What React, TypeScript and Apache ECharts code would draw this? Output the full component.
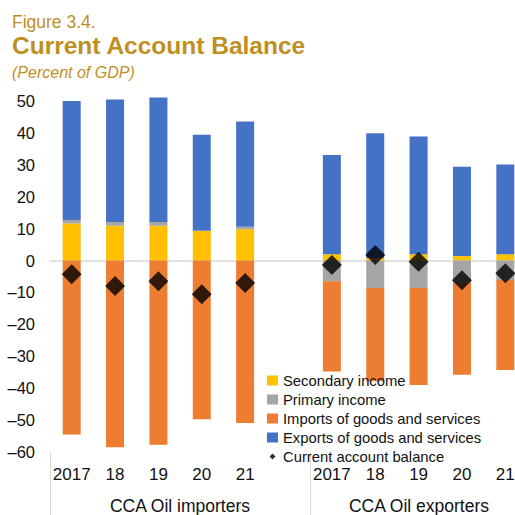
import React, { useEffect, useRef } from 'react';
import * as echarts from 'echarts';

const categories = ['2017', '18', '19', '20', '21', '', '2017', '18', '19', '20', '21'];
const groupLabels = ['CCA Oil importers', 'CCA Oil exporters'];
const secondaryIncome = [11.6, 10.9, 10.9, 9.3, 9.8, '-', 2.0, 0.8, 2.0, 1.4, 2.0];
const primaryIncome = [1.1, 1.2, 1.2, 0, 0.8, '-', -6.5, -8.6, -8.6, -7.0, -6.1];
const importsGS = [-54.5, -58.5, -57.7, -49.7, -50.9, '-', -28.3, -29.2, -30.4, -28.8, -28.2];
const exportsGS = [37.3, 38.4, 39.0, 30.1, 33.0, '-', 31.1, 39.1, 36.9, 28.0, 28.1];
const currentAccount = [-4.3, -8.0, -6.5, -10.6, -7.0, '-', -1.4, 1.7, -0.4, -6.2, -4.0];
const yMin = -60;
const yMax = 50;
const yStep = 10;

const FONT = '"Liberation Sans", Arial, sans-serif';
const GOLD = '#BF8F1F';

export default function App() {
  const ref = useRef<HTMLDivElement>(null);
  useEffect(() => {
    if (!ref.current) return;
    const chart = echarts.init(ref.current, undefined, { renderer: 'svg' });
    const barCommon = { type: 'bar', stack: 'total', barWidth: 18, xAxisIndex: 0, clip: false };
    chart.setOption({
      animation: false,
      textStyle: { fontFamily: FONT },
      grid: { left: 50, right: 1, top: 101, bottom: 63, containLabel: false },
      xAxis: [
        {
          type: 'category',
          data: categories,
          boundaryGap: true,
          axisLine: { show: false, onZero: false },
          axisTick: {
            show: true,
            alignWithLabel: false,
            length: 63,
            interval: (index: number) => index === 0 || index === 6,
            lineStyle: { color: '#d9d9d9', width: 1 },
          },
          axisLabel: { color: '#111', fontSize: 17, margin: 14, fontFamily: FONT, interval: 0 },
        },
        {
          type: 'category',
          data: categories,
          position: 'bottom',
          axisLine: { show: true, onZero: true, lineStyle: { color: '#d9d9d9', width: 1.5 } },
          axisTick: { show: false },
          axisLabel: { show: false },
        },
      ],
      yAxis: {
        type: 'value',
        min: yMin,
        max: yMax,
        interval: yStep,
        axisLine: { show: false },
        axisTick: { show: false },
        splitLine: { show: false },
        axisLabel: {
          color: '#111',
          fontSize: 16.5,
          margin: 15,
          fontFamily: FONT,
          formatter: (v: number) => String(v).replace('-', '\u2013'),
        },
      },
      legend: {
        orient: 'vertical',
        left: 267,
        top: 373,
        padding: 0,
        itemGap: 4,
        itemWidth: 11,
        itemHeight: 10,
        textStyle: { fontSize: 14.8, lineHeight: 15, color: '#111', fontFamily: FONT },
        data: [
          { name: 'Secondary income', icon: 'rect' },
          { name: 'Primary income', icon: 'rect' },
          { name: 'Imports of goods and services', icon: 'rect' },
          { name: 'Exports of goods and services', icon: 'rect' },
          { name: 'Current account balance', icon: 'path://M0,0M11,10M5.5,2L8.5,5L5.5,8L2.5,5Z' },
        ],
      },
      graphic: [
        { type: 'text', left: 12, top: 13, style: { text: 'Figure 3.4.', fontSize: 17.5, fontFamily: FONT, fill: GOLD } },
        { type: 'text', left: 12, top: 33, style: { text: 'Current Account Balance', fontSize: 24.5, fontWeight: 'bold', fontFamily: FONT, fill: GOLD } },
        { type: 'text', left: 12, top: 64, style: { text: '(Percent of GDP)', fontSize: 16, fontStyle: 'italic', fontFamily: FONT, fill: GOLD } },
        { type: 'text', x: 180, y: 506, style: { text: groupLabels[0], fontSize: 17.5, fontFamily: FONT, fill: '#111', align: 'center', verticalAlign: 'middle' } },
        { type: 'text', x: 419, y: 506, style: { text: groupLabels[1], fontSize: 17.5, fontFamily: FONT, fill: '#111', align: 'center', verticalAlign: 'middle' } },
      ],
      series: [
        { ...barCommon, name: 'Secondary income', data: secondaryIncome, itemStyle: { color: '#FFC000' } },
        { ...barCommon, name: 'Primary income', data: primaryIncome, itemStyle: { color: '#A5A5A5' } },
        { ...barCommon, name: 'Imports of goods and services', data: importsGS, itemStyle: { color: '#ED7D31' } },
        { ...barCommon, name: 'Exports of goods and services', data: exportsGS, itemStyle: { color: '#4472C4' } },
        {
          type: 'scatter',
          name: 'Current account balance',
          data: currentAccount,
          symbol: 'diamond',
          symbolSize: [20, 20],
          itemStyle: { color: '#000' },
          clip: false,
          z: 5,
        },
      ],
    });
    return () => chart.dispose();
  }, []);
  return (
    <div style={{ position: 'absolute', left: 0, top: 0, width: 515, height: 515, overflow: 'hidden', background: '#fff' }}>
      <div ref={ref} style={{ width: 528, height: 515 }} />
    </div>
  );
}
